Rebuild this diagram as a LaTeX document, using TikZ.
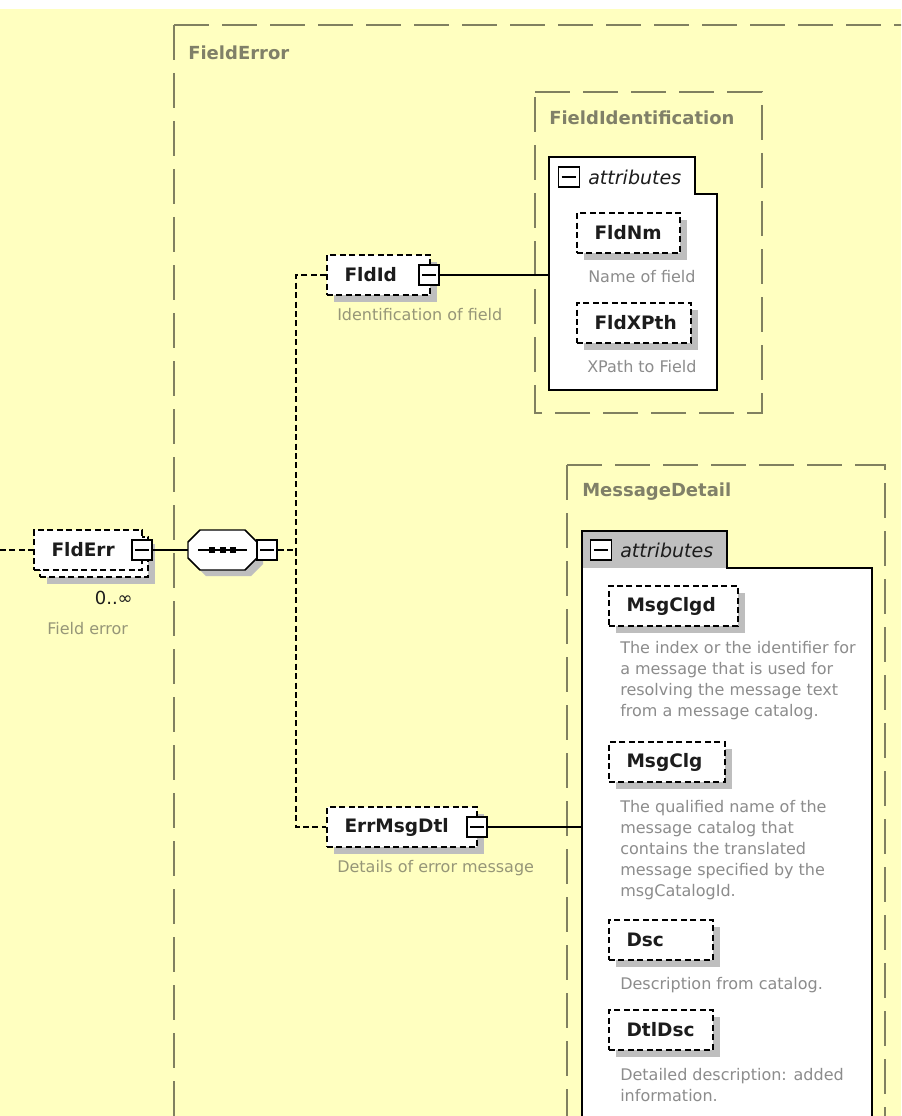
\documentclass[tikz,border=0pt]{standalone}
\usepackage{fontspec}
\setmainfont{DejaVu Sans}
\usetikzlibrary{calc,shadows}
\definecolor{bgy}{RGB}{255,255,192}
\definecolor{olv}{RGB}{128,128,96}
\definecolor{lbl}{RGB}{128,128,104}
\definecolor{dscy}{RGB}{150,150,120}
\definecolor{dscw}{RGB}{140,140,140}
\definecolor{tabg}{RGB}{192,192,192}
\definecolor{shd}{RGB}{190,190,190}
\definecolor{ink}{RGB}{28,28,28}
\begin{document}
\begin{tikzpicture}[x=0.75pt,y=-0.75pt,
  cont/.style={draw=olv, line width=1.1pt, dash pattern=on 26.25pt off 9.75pt},
  clabel/.style={anchor=west, inner sep=0pt, text=lbl, font=\bfseries\fontsize{13.5}{16}\selectfont},
  frame/.style={draw=black, line width=1.1pt},
  elemns/.style={draw=black, line width=1.1pt, dash pattern=on 4.5pt off 2.6pt, fill=white, minimum height=30pt, inner sep=0pt},
  elem/.style={elemns, general shadow={shadow xshift=5.25pt, shadow yshift=-5.25pt, opacity=1, fill=shd}},
  ename/.style={anchor=west, inner sep=0pt, text=ink, font=\bfseries\fontsize{13.9}{16}\selectfont},
  minusbtn/.style={draw=black, line width=1.1pt, fill=white, minimum width=15pt, minimum height=15pt, inner sep=0pt,
    path picture={\draw[line width=1.1pt] ([xshift=2.5pt]path picture bounding box.west) -- ([xshift=-2.5pt]path picture bounding box.east);}},
  descy/.style={anchor=west, inner sep=0pt, text=dscy, font=\fontsize{12}{15.75}\selectfont},
  descw/.style={anchor=north west, inner sep=0pt, align=left, text=dscw, font=\fontsize{12}{15.75}\selectfont},
  attrlbl/.style={anchor=west, inner sep=0pt, text=ink, font=\itshape\fontsize{14.3}{16}\selectfont},
  dconn/.style={draw=black, line width=1.1pt, dash pattern=on 4.5pt off 2.6pt},
  sconn/.style={draw=black, line width=1.1pt}
]
\useasboundingbox (0,0) rectangle (901,1116);
\clip (0,0) rectangle (901,1116);
\fill[white] (0,0) rectangle (901,9);
\fill[bgy] (0,9) rectangle (901,1116);

% ---- containers ----
\draw[cont] (174,25) -- (920,25);
\draw[cont] (174,25) -- (174,1140);
\node[clabel] (lblFE) at (188,53) {FieldError};

\draw[cont] (535,92) -- (762,92) -- (762,413) -- (535,413) -- cycle;
\node[clabel] (lblFI) at (549,118) {FieldIdentification};

\draw[cont] (567,465) -- (885,465) -- (885,1140);
\draw[cont] (567,465) -- (567,1140);
\node[clabel] (lblMD) at (582,492) {MessageDetail};

% ---- attribute frames ----
\draw[frame, fill=white] (549,157) -- (695,157) -- (695,194) -- (717,194) -- (717,390) -- (549,390) -- cycle;
\node[minusbtn, minimum width=16pt] (fiAttM) at (569,177) {};
\node[attrlbl] (fiAtt) at (588,177) {attributes};

\fill[white] (582,531) -- (727,531) -- (727,568) -- (872,568) -- (872,1140) -- (582,1140) -- cycle;
\fill[tabg] (582,531) rectangle (727,568);
\draw[frame] (582,1140) -- (582,531) -- (727,531) -- (727,568) -- (872,568) -- (872,1140);
\node[minusbtn, minimum width=16pt] (mdAttM) at (601,550) {};
\node[attrlbl] (mdAtt) at (620,550) {attributes};

% ---- coordinates for connectors ----
\coordinate (inL) at (0,550);
\coordinate (br) at (296,550);
\coordinate (fiIn) at (549,275);
\coordinate (mdIn) at (582,827);

% ---- FldErr (repeating element) ----
\node[elem, minimum width=81pt] (fldErrB) at (94,557) {};
\node[elemns, minimum width=81pt] (fldErr) at (88,550) {};
\node[ename] (fldErrT) at ([xshift=13.5pt]fldErr.west) {FldErr};
\node[minusbtn] (fldErrM) at (142,550) {};
\node[anchor=east, inner sep=0pt, text=ink, font=\fontsize{13.5}{15}\selectfont] (fldErrOcc) at (133,598) {0..∞};
\node[descy] (fldErrD) at (47,629) {Field error};

% ---- sequence compositor ----
\node[minimum width=51.75pt, minimum height=30pt, inner sep=0pt] (seq) at (222.5,550) {};
\fill[shd] (206,536) -- (251,536) -- (263,548) -- (263,564) -- (251,576) -- (206,576) -- (194,564) -- (194,548) -- cycle;
\draw[frame, fill=white] (200,530) -- (245,530) -- (257,542) -- (257,558) -- (245,570) -- (200,570) -- (188,558) -- (188,542) -- cycle;
\draw[line width=1.1pt] (198,550) -- (247,550);
\fill (209,547) rectangle (215,553);
\fill (219.5,547) rectangle (225.5,553);
\fill (230,547) rectangle (236,553);
\node[minusbtn] (seqM) at (267,550) {};

% ---- connectors ----
\draw[dconn] (inL) -- (fldErr.west);
\draw[sconn] (fldErrM.east) -- (seq.west);
\draw[dconn] (seqM.east) -- (br);

% ---- FldId ----
\node[elem, minimum width=77.25pt] (fldId) at (378.5,275) {};
\node[ename] (fldIdT) at ([xshift=13.5pt]fldId.west) {FldId};
\node[minusbtn] (fldIdM) at (429,275) {};
\node[descy] (fldIdD) at (337,315) {Identification of field};

% ---- ErrMsgDtl ----
\node[elem, minimum width=112.5pt] (errMsg) at (402,827) {};
\node[ename] (errMsgT) at ([xshift=13.5pt]errMsg.west) {ErrMsgDtl};
\node[minusbtn] (errMsgM) at (477,827) {};
\node[descy] (errMsgD) at (337,868) {Details of error message};

\draw[dconn] (fldId.west) -| (br);
\draw[dconn] (br) |- (errMsg.west);
\draw[sconn] (fldIdM.east) -- (fiIn);
\draw[sconn] (errMsgM.east) -- (mdIn);

% ---- FieldIdentification attributes ----
\node[elem, minimum width=77.25pt] (fldNm) at (628.5,233) {};
\node[ename] (fldNmT) at ([xshift=13.5pt]fldNm.west) {FldNm};
\node[descw, anchor=west] (fldNmD) at (588,277) {Name of field};

\node[elem, minimum width=85.5pt] (fldXP) at (634,323) {};
\node[ename] (fldXPT) at ([xshift=13.5pt]fldXP.west) {FldXPth};
\node[descw, anchor=west] (fldXPD) at (587,367) {XPath to Field};

% ---- MessageDetail attributes ----
\node[elem, minimum width=96.75pt] (msgClgd) at (673.5,606) {};
\node[ename] (msgClgdT) at ([xshift=13.5pt]msgClgd.west) {MsgClgd};
\node[descw] (msgClgdD) at (620,641) {The index or the identifier for\\a message that is used for\\resolving the message text\\from a message catalog.};

\node[elem, minimum width=87pt] (msgClg) at (667,762) {};
\node[ename] (msgClgT) at ([xshift=13.5pt]msgClg.west) {MsgClg};
\node[descw] (msgClgD) at (620,800) {The qualified name of the\\message catalog that\\contains the translated\\message specified by the\\msgCatalogId.};

\node[elem, minimum width=78pt] (dsc) at (661,940) {};
\node[ename] (dscT) at ([xshift=13.5pt]dsc.west) {Dsc};
\node[descw] (dscD) at (620,977) {Description from catalog.};

\node[elem, minimum width=78pt] (dtlDsc) at (661,1030) {};
\node[ename] (dtlDscT) at ([xshift=13.5pt]dtlDsc.west) {DtlDsc};
\node[descw] (dtlDscD) at (620,1068) {Detailed description: added\\information.};
\end{tikzpicture}
\end{document}
